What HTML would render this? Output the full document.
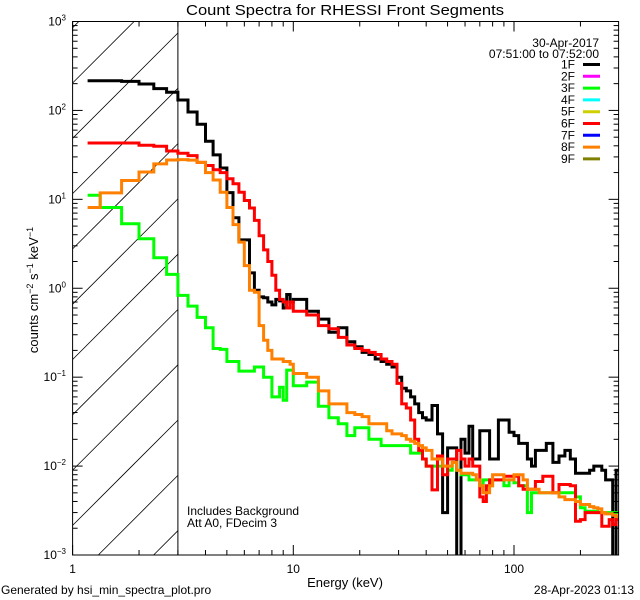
<!DOCTYPE html>
<html><head><meta charset="utf-8"><style>
html,body{margin:0;padding:0;background:#fff;width:640px;height:600px;overflow:hidden;}
svg{display:block;font-family:"Liberation Sans",sans-serif;}
</style></head><body>
<svg id="chart" width="640" height="600" viewBox="0 0 640 600" xmlns="http://www.w3.org/2000/svg">
<defs><clipPath id="plotclip"><rect x="72.6" y="21.5" width="546" height="533.5"/></clipPath></defs>
<text x="345" y="15" font-size="15" text-anchor="middle" textLength="318" lengthAdjust="spacingAndGlyphs">Count Spectra for RHESSI Front Segments</text>
<g id="hatch"></g>
<line x1="177.9" y1="21.5" x2="177.9" y2="555" stroke="#000" stroke-width="1"/>
<g id="series" clip-path="url(#plotclip)"></g>
<rect x="72.6" y="21.5" width="546" height="533.5" fill="none" stroke="#000" stroke-width="1"/>
<g id="axes"></g>
<text transform="translate(38,290) rotate(-90)" font-size="13" text-anchor="middle">counts cm<tspan font-size="9" dy="-5">−2</tspan><tspan dy="5"> s</tspan><tspan font-size="9" dy="-5">−1</tspan><tspan dy="5"> keV</tspan><tspan font-size="9" dy="-5">−1</tspan></text>
<text x="345" y="587" font-size="13" text-anchor="middle">Energy (keV)</text>
<g font-size="12">
<text x="599" y="47" text-anchor="end">30-Apr-2017</text>
<text x="599" y="58" text-anchor="end">07:51:00 to 07:52:00</text>
<g id="legend-entries"></g>
</g>
<text x="187" y="515" font-size="12">Includes Background</text>
<text x="187" y="527" font-size="12">Att A0, FDecim 3</text>
<text x="1" y="594" font-size="12">Generated by hsi_min_spectra_plot.pro</text>
<text x="634" y="594" font-size="12" text-anchor="end">28-Apr-2023 01:13</text>
</svg>
<script>
// Energy bin edges (keV)
const edges = [1.17];
for (let i = 4; i <= 30; i++) edges.push(i / 3);
for (let e = 11.5; e <= 40; e += 1.5) edges.push(e);
for (let e = 42.5; e <= 80; e += 2.5) edges.push(e);
for (let e = 85; e <= 140; e += 5) edges.push(e);
for (let e = 150; e <= 290; e += 10) edges.push(e);
edges.push(297);

const seg1F = [216,216,212,198,176,160,131,96,70,45,31.6,22.5,11.9,6.2,3.5,3.5,1.49,0.95,0.8,0.78,0.7,0.65,0.75,0.72,0.6,0.85,0.7,
 0.75,0.55,0.45,0.32,0.36,0.25,0.22,0.19,0.18,0.16,0.15,0.14,0.13,0.1,0.075,0.07,0.06,0.05,0.04,0.035,
 0.033,0.048,0.023,0.003,0.016,0.016,0.0001,0.02,0.014,0.028,0.012,0.012,0.025,0.025,0.025,0.012,
 0.012,0.033,0.033,0.024,0.022,0.018,0.018,0.012,0.01,0.015,0.015,0.015,
 0.018,0.011,0.013,0.015,0.012,0.0083,0.0083,0.0083,0.009,0.01,0.01,0.009,0.007,0.007,0.0001,0.009];
const seg3F = [11.1,8.1,5.3,3.6,2.2,1.43,0.83,0.63,0.47,0.36,0.21,0.205,0.15,0.15,0.117,0.117,0.117,0.13,0.13,0.1,0.1,0.06,0.06,0.077,0.055,0.12,0.12,
 0.08,0.088,0.047,0.035,0.03,0.022,0.027,0.027,0.02,0.02,0.017,0.017,0.017,0.017,0.017,0.017,0.014,0.014,0.014,0.012,
 0.01,0.01,0.01,0.01,0.009,0.011,0.009,0.008,0.008,0.007,0.007,0.007,0.006,0.007,0.007,0.006,
 0.007,0.007,0.006,0.007,0.0065,0.006,0.006,0.003,0.005,0.005,0.005,0.005,
 0.005,0.005,0.005,0.005,0.005,0.0045,0.0034,0.0031,0.0031,0.0031,0.003,0.003,0.003,0.003,0.003,0.003];
const seg6F = [43,43,43,40.5,39.6,35,33,31,26,24,21.5,20,17,15,12,9.7,8,5.8,3.9,2.7,2.0,1.4,0.95,0.75,0.7,0.6,0.7,
 0.55,0.5,0.38,0.35,0.28,0.23,0.21,0.2,0.19,0.18,0.16,0.15,0.14,0.085,0.05,0.045,0.033,0.02,0.015,0.012,
 0.01,0.0054,0.013,0.008,0.012,0.012,0.015,0.012,0.01,0.012,0.01,0.01,0.0045,0.004,0.006,0.007,
 0.007,0.007,0.0077,0.0077,0.0077,0.006,0.0055,0.0055,0.0055,0.0067,0.0067,0.0077,
 0.0077,0.005,0.0062,0.0062,0.006,0.0024,0.0025,0.003,0.003,0.003,0.003,0.0021,0.0021,0.0025,0.0022,0.0025];
const seg8F = [8.1,11.8,16.3,20.3,25,27.7,28,27.6,26,20,16.5,12,8.1,5.2,3.3,1.8,0.95,0.9,0.38,0.26,0.2,0.16,0.16,0.16,0.15,0.15,0.14,
 0.11,0.1,0.07,0.05,0.05,0.04,0.038,0.036,0.03,0.03,0.03,0.025,0.023,0.023,0.022,0.02,0.019,0.018,0.017,0.016,
 0.015,0.012,0.012,0.01,0.01,0.011,0.009,0.0083,0.0083,0.0083,0.008,0.007,0.006,0.005,0.005,0.006,
 0.008,0.008,0.007,0.007,0.008,0.008,0.007,0.0055,0.0055,0.0055,0.005,0.005,
 0.005,0.005,0.0045,0.0042,0.0042,0.004,0.0037,0.0037,0.0035,0.0034,0.0033,0.003,0.0029,0.0029,0.0028,0.0027];

const legendLabels = ["1F","2F","3F","4F","5F","6F","7F","8F","9F"];
const legendColors = ["#000000","#ff00ff","#00ff00","#00ffff","#d0d000","#ff0000","#0000ff","#ff8000","#808000"];
const xTickLabels = ["1","10","100"];
const yTickExps = ["−3","−2","−1","0","1","2","3"];

const NS = "http://www.w3.org/2000/svg";
const X0 = 72.6, X1 = 618.6, Y0 = 555, Y1 = 21.5, XH = 177.9;
const xDec = 220.7, yDec = (Y0 - Y1) / 6;
function xs(e){ return X0 + xDec * Math.log10(e); }
function ys(v){ return Y0 - yDec * (Math.log10(Math.max(v,1e-5)) + 3); }
function mk(tag, attrs, parent){ const el = document.createElementNS(NS, tag); for (const k in attrs) el.setAttribute(k, attrs[k]); parent.appendChild(el); return el; }

// hatching, clipped manually to the hatch box
const hatch = document.getElementById("hatch");
for (let k = -2; k < 11; k++) {
  const c = 83 + k * 55.3 + X0; // line: y = c - x
  let xa = X0, ya = c - X0;
  if (ya > Y0) { ya = Y0; xa = c - Y0; }
  let xb = XH, yb = c - XH;
  if (yb < Y1) { yb = Y1; xb = c - Y1; }
  if (xa >= xb || xa > XH || xb < X0) continue;
  const ln = mk("line", {x1: xa.toFixed(1), y1: ya.toFixed(1), x2: xb.toFixed(1), y2: yb.toFixed(1), stroke: "#000", "stroke-width": 0.8}, hatch);
  
  
}

const seriesG = document.getElementById("series");
const series = [[seg1F,"#000000","series-1f"],[seg3F,"#00ff00","series-3f"],[seg6F,"#ff0000","series-6f"],[seg8F,"#ff8000","series-8f"]];
series.forEach(([vals, col, name]) => {
  let d = "M" + xs(edges[0]).toFixed(1) + " " + Math.min(ys(vals[0]), Y0).toFixed(1);
  for (let i = 0; i < vals.length; i++) {
    if (i > 0) d += " V" + Math.min(ys(vals[i]), Y0 + 2).toFixed(1);
    d += " H" + xs(edges[i+1]).toFixed(1);
  }
  const p = mk("path", {d: d, fill: "none", stroke: col, "stroke-width": 3, "stroke-linejoin": "miter"}, seriesG);
  
  
});

const axes = document.getElementById("axes");
for (let dec = 0; dec < 3; dec++) {
  for (let m = 1; m <= 9; m++) {
    const e = m * Math.pow(10, dec);
    const x = xs(e);
    if (x > X1) continue;
    const len = m === 1 ? 10 : 5;
    const t1 = mk("line", {x1: x, y1: Y0, x2: x, y2: Y0 - len, stroke: "#000"}, axes);
    
    
    const t2 = mk("line", {x1: x, y1: Y1, x2: x, y2: Y1 + len, stroke: "#000"}, axes);
    
    
  }
  const lab = mk("text", {x: xs(Math.pow(10, dec)), y: 573, "font-size": 12, "text-anchor": "middle"}, axes);
  lab.textContent = xTickLabels[dec];
  
  
}
for (let p = -3; p <= 3; p++) {
  for (let m = 1; m <= 9; m++) {
    const v = m * Math.pow(10, p);
    const y = ys(v);
    if (y < Y1 - 0.5) continue;
    const len = m === 1 ? 10 : 5;
    const t1 = mk("line", {x1: X0, y1: y, x2: X0 + len, y2: y, stroke: "#000"}, axes);
    
    
    const t2 = mk("line", {x1: X1, y1: y, x2: X1 - len, y2: y, stroke: "#000"}, axes);
    
    
  }
  const lab = mk("text", {x: 66, y: ys(Math.pow(10, p)) + 4, "font-size": 12, "text-anchor": "end"}, axes);
  
  
  const base = document.createElementNS(NS, "tspan"); base.textContent = "10"; lab.appendChild(base);
  const sup = document.createElementNS(NS, "tspan"); sup.setAttribute("font-size", "8"); sup.setAttribute("dy", "-5"); sup.textContent = yTickExps[p + 3]; lab.appendChild(sup);
}

const leg = document.getElementById("legend-entries");
legendLabels.forEach((lb, i) => {
  const y = 64.5 + i * 11.8;
  const t = mk("text", {x: 575, y: y + 4, "text-anchor": "end", "font-size": 12}, leg);
  t.textContent = lb;
  
  
  const l = mk("line", {x1: 583, y1: y, x2: 600, y2: y, stroke: legendColors[i], "stroke-width": 3}, leg);
  
  
});
</script>
</body></html>
